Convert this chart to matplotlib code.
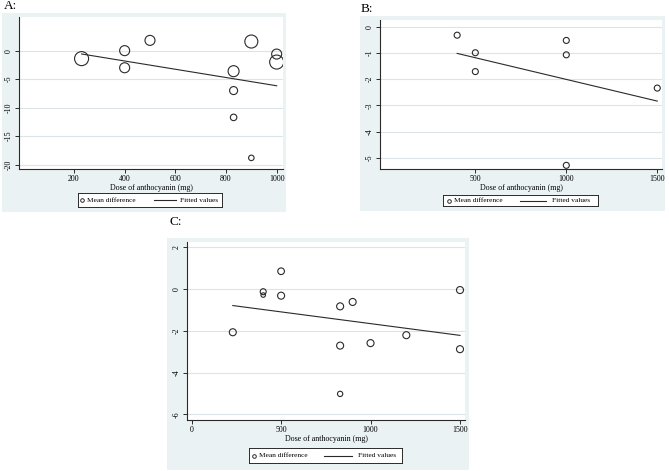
import numpy as np
import matplotlib
matplotlib.use("Agg")
import matplotlib.pyplot as plt
from matplotlib.patches import Rectangle
from matplotlib.lines import Line2D

plt.rcParams['font.family'] = ['Liberation Serif', 'DejaVu Serif']

# panel A: dose vs mean difference, bubble weight
dose_a = [230, 400, 400, 500, 830, 830, 830, 900, 900, 1000, 1000]
md_a = [-1.4, 0.0, -3.0, 1.8, -3.6, -7.0, -11.7, -18.8, 1.6, -0.6, -2.0]
weight_a = [19.6, 10.0, 10.0, 10.0, 12.1, 6.4, 4.2, 3.0, 16.9, 10.0, 19.6]
xticks_a = [200, 400, 600, 800, 1000]
yticks_a = [0, -5, -10, -15, -20]

# panel B
dose_b = [400, 500, 500, 1000, 1000, 1000, 1500]
md_b = [-0.32, -0.99, -1.71, -0.52, -1.07, -5.29, -2.34]
weight_b = [3.6] * 7
xticks_b = [500, 1000, 1500]
yticks_b = [0, -1, -2, -3, -4, -5]

# panel C
dose_c = [230, 400, 400, 500, 500, 830, 830, 830, 900, 1000, 1200, 1500, 1500]
md_c = [-2.07, -0.13, -0.29, 0.85, -0.32, -0.83, -2.71, -5.02, -0.62, -2.59, -2.21, -0.05, -2.88]
weight_c = [4.9, 3.6, 2.0, 4.4, 4.9, 4.9, 4.9, 2.8, 4.9, 4.9, 4.9, 4.9, 4.9]
xticks_c = [0, 500, 1000, 1500]
yticks_c = [2, 0, -2, -4, -6]

W, H = 669, 471
BG = '#eaf2f3'
GRID = '#dbe5e8'
INK = '#2a2a2a'
FS = 5.7
LFS = 5.3

fig = plt.figure(figsize=(W / 100, H / 100), dpi=100)


def frac(x0, y0, x1, y1):
    return [x0 / W, 1 - y1 / H, (x1 - x0) / W, (y1 - y0) / H]


def panel(bg, box, leg, xs, ys, wts, xticks, yticks, xlim, ylim, lab, labpos, legpos):
    r = frac(*bg)
    fig.patches.append(Rectangle((r[0], r[1]), r[2], r[3], transform=fig.transFigure,
                                 facecolor=BG, edgecolor='none', zorder=-5))
    ax = fig.add_axes(frac(*box))
    ax.set_facecolor('white')
    for s in ['top', 'right']:
        ax.spines[s].set_visible(False)
    for s in ['left', 'bottom']:
        ax.spines[s].set_color(INK)
        ax.spines[s].set_linewidth(0.8)
    for yt in yticks:
        ax.axhline(yt, color=GRID, lw=0.8, zorder=0)
    ax.scatter(xs, ys, s=np.array(wts) * 5.2, facecolors='none', edgecolors=INK,
               linewidths=0.8, zorder=3)
    k, b = np.polyfit(xs, ys, 1)
    xf = np.array([min(xs), max(xs)])
    ax.plot(xf, k * xf + b, color=INK, lw=0.8, zorder=2)
    ax.set_xlim(*xlim)
    ax.set_ylim(*ylim)
    ax.set_xticks(xticks)
    ax.set_yticks(yticks)
    ax.set_xticklabels([str(t) for t in xticks], fontsize=FS)
    ax.set_yticklabels([str(t) for t in yticks], fontsize=FS, rotation=90, va='center')
    ax.tick_params(length=3, width=0.7, color=INK, pad=1.5)
    ax.set_xlabel('Dose of anthocyanin (mg)', fontsize=FS, labelpad=0.3)

    fig.text(labpos[0] / W, 1 - labpos[1] / H, lab, fontsize=9.5, ha='left', va='center')

    # legend box
    lg = fig.add_axes(frac(*leg))
    lg.set_xlim(0, 1)
    lg.set_ylim(0, 1)
    lg.set_xticks([])
    lg.set_yticks([])
    lg.set_facecolor('white')
    for s in lg.spines.values():
        s.set_color(INK)
        s.set_linewidth(0.7)
    lg.add_line(Line2D([legpos[0]], [0.5], marker='o', ms=2.6, mfc='none', mec=INK,
                       mew=0.7, ls='none'))
    lg.text(legpos[1], 0.5, 'Mean difference', fontsize=LFS, va='center', ha='left')
    lg.add_line(Line2D([legpos[2], legpos[3]], [0.5, 0.5], color=INK, lw=0.8))
    lg.text(legpos[4], 0.5, 'Fitted values', fontsize=LFS, va='center', ha='left')
    return ax


panel((2, 13, 286, 212), (19, 17, 283, 169), (78, 193, 222, 207),
      dose_a, md_a, weight_a, xticks_a, yticks_a, (-17, 1025), (-20.75, 5.9),
      'A:', (4, 6), (0.028, 0.064, 0.528, 0.678, 0.706))
panel((360, 16, 665, 211), (380, 20, 662, 169), (443, 195, 598, 206),
      dose_b, md_b, weight_b, xticks_b, yticks_b, (-24, 1526), (-5.43, 0.26),
      'B:', (361, 8.5), (0.036, 0.071, 0.498, 0.665, 0.702))
panel((167, 238, 469, 470), (187, 242, 465, 420), (249, 448, 402, 463),
      dose_c, md_c, weight_c, xticks_c, yticks_c, (-26, 1528), (-6.27, 2.25),
      'C:', (170, 222), (0.033, 0.068, 0.49, 0.676, 0.71))

fig.savefig('out.png', dpi=100)
